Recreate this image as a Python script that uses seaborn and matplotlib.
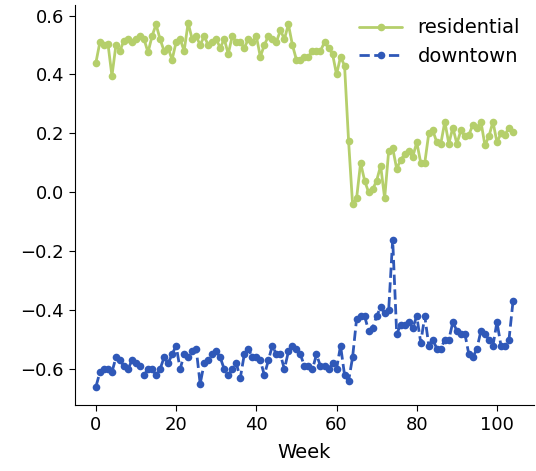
import numpy as np
import pandas as pd
import matplotlib
matplotlib.use("Agg")
import matplotlib.pyplot as plt
import seaborn as sns

# weekly values
weeks = list(range(105))

residential = [
    0.44, 0.51, 0.50, 0.505, 0.395, 0.50, 0.48, 0.515, 0.52, 0.51,
    0.52, 0.53, 0.52, 0.475, 0.53, 0.57, 0.52, 0.48, 0.49, 0.45,
    0.51, 0.52, 0.48, 0.575, 0.52, 0.53, 0.50, 0.53, 0.50, 0.51,
    0.52, 0.49, 0.52, 0.47, 0.53, 0.51, 0.51, 0.49, 0.52, 0.51,
    0.53, 0.46, 0.50, 0.53, 0.52, 0.51, 0.55, 0.52, 0.57, 0.50,
    0.45, 0.45, 0.46, 0.46, 0.48, 0.48, 0.48, 0.51, 0.49, 0.47,
    0.40, 0.46, 0.43, 0.175, -0.04, -0.02, 0.10, 0.04, 0.00, 0.01,
    0.04, 0.09, -0.02, 0.14, 0.15, 0.08, 0.11, 0.13, 0.14, 0.12,
    0.17, 0.10, 0.10, 0.20, 0.21, 0.17, 0.165, 0.24, 0.165, 0.22,
    0.165, 0.21, 0.19, 0.195, 0.23, 0.22, 0.24, 0.16, 0.19, 0.24,
    0.17, 0.20, 0.195, 0.22, 0.205,
]

downtown = [
    -0.66, -0.61, -0.60, -0.60, -0.61, -0.56, -0.57, -0.59, -0.60, -0.57,
    -0.58, -0.59, -0.62, -0.60, -0.60, -0.62, -0.60, -0.56, -0.58, -0.55,
    -0.52, -0.60, -0.55, -0.56, -0.54, -0.53, -0.65, -0.58, -0.57, -0.55,
    -0.54, -0.56, -0.60, -0.62, -0.60, -0.58, -0.63, -0.55, -0.53, -0.56,
    -0.56, -0.57, -0.62, -0.57, -0.52, -0.55, -0.55, -0.60, -0.54, -0.52,
    -0.53, -0.55, -0.59, -0.59, -0.60, -0.55, -0.59, -0.59, -0.60, -0.58,
    -0.60, -0.52, -0.62, -0.64, -0.56, -0.43, -0.42, -0.42, -0.47, -0.46,
    -0.42, -0.39, -0.41, -0.40, -0.16, -0.48, -0.45, -0.45, -0.44, -0.46,
    -0.42, -0.51, -0.42, -0.52, -0.50, -0.53, -0.53, -0.50, -0.50, -0.44,
    -0.47, -0.48, -0.48, -0.55, -0.56, -0.53, -0.47, -0.48, -0.50, -0.52,
    -0.44, -0.52, -0.52, -0.50, -0.37,
]

sns.set_style("ticks")
plt.rcParams['font.family'] = ['DejaVu Sans']
plt.rcParams['font.size'] = 13
for key in ['text.color', 'axes.labelcolor', 'xtick.color', 'ytick.color', 'axes.edgecolor']:
    plt.rcParams[key] = 'black'

fig, ax = plt.subplots(figsize=(5.36, 4.71), dpi=100)

sns.lineplot(x=weeks, y=residential, ax=ax, color='#b5cf6b', marker='o',
             markersize=5.5, markeredgewidth=0, linewidth=2, label='residential')
sns.lineplot(x=weeks, y=downtown, ax=ax, color='#2f58b8', marker='o',
             markersize=5.5, markeredgewidth=0, linewidth=2, linestyle='--',
             label='downtown')

ax.set_xlabel('Week', fontsize=14, labelpad=6)
ax.set_ylabel('')
ax.tick_params(labelsize=13, length=4.5)
ax.legend(frameon=False, loc='upper right', fontsize=14,
          handlelength=2.2, borderaxespad=0.3)
sns.despine()

plt.subplots_adjust(left=0.14, right=0.996, top=0.99, bottom=0.14)
plt.savefig('out.png', dpi=100)
